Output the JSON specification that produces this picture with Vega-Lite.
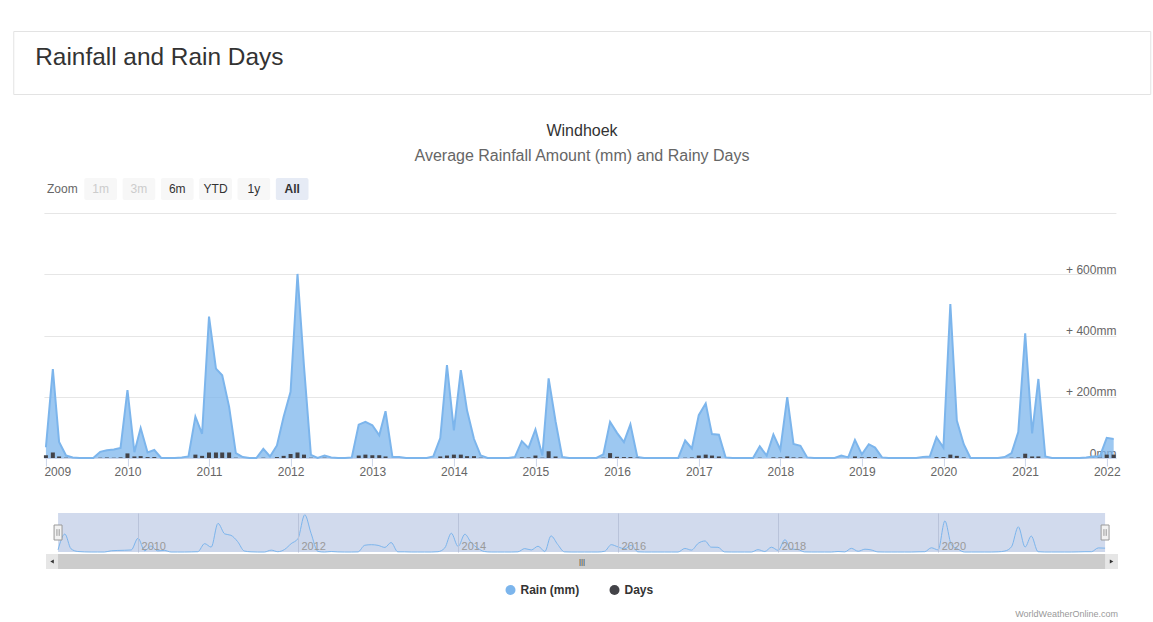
{
  "$schema": "https://vega.github.io/schema/vega-lite/v6.json",
  "padding": {"left": 12, "top": 30, "right": 4, "bottom": 0},
  "background": "#ffffff",
  "config": {
    "font": "Liberation Sans",
    "view": {"stroke": null}
  },
  "datasets": {
    "monthly": [
      {"date": "2009-01-01", "rain": 35, "days": 9},
      {"date": "2009-02-01", "rain": 290, "days": 18},
      {"date": "2009-03-01", "rain": 52, "days": 5},
      {"date": "2009-04-01", "rain": 8, "days": 1},
      {"date": "2009-05-01", "rain": 2, "days": 0},
      {"date": "2009-06-01", "rain": 0, "days": 0},
      {"date": "2009-07-01", "rain": 0, "days": 0},
      {"date": "2009-08-01", "rain": 0, "days": 0},
      {"date": "2009-09-01", "rain": 20, "days": 1},
      {"date": "2009-10-01", "rain": 25, "days": 2},
      {"date": "2009-11-01", "rain": 28, "days": 1},
      {"date": "2009-12-01", "rain": 33, "days": 2},
      {"date": "2010-01-01", "rain": 222, "days": 15},
      {"date": "2010-02-01", "rain": 19, "days": 5},
      {"date": "2010-03-01", "rain": 98, "days": 6},
      {"date": "2010-04-01", "rain": 18, "days": 3},
      {"date": "2010-05-01", "rain": 26, "days": 3},
      {"date": "2010-06-01", "rain": 0, "days": 0},
      {"date": "2010-07-01", "rain": 0, "days": 0},
      {"date": "2010-08-01", "rain": 0, "days": 0},
      {"date": "2010-09-01", "rain": 2, "days": 0},
      {"date": "2010-10-01", "rain": 5, "days": 0},
      {"date": "2010-11-01", "rain": 135, "days": 11},
      {"date": "2010-12-01", "rain": 79, "days": 7},
      {"date": "2011-01-01", "rain": 462, "days": 18},
      {"date": "2011-02-01", "rain": 292, "days": 18},
      {"date": "2011-03-01", "rain": 270, "days": 18},
      {"date": "2011-04-01", "rain": 167, "days": 18},
      {"date": "2011-05-01", "rain": 16, "days": 1},
      {"date": "2011-06-01", "rain": 3, "days": 0},
      {"date": "2011-07-01", "rain": 0, "days": 0},
      {"date": "2011-08-01", "rain": 0, "days": 0},
      {"date": "2011-09-01", "rain": 30, "days": 1},
      {"date": "2011-10-01", "rain": 5, "days": 0},
      {"date": "2011-11-01", "rain": 41, "days": 3},
      {"date": "2011-12-01", "rain": 135, "days": 7},
      {"date": "2012-01-01", "rain": 216, "days": 13},
      {"date": "2012-02-01", "rain": 601, "days": 18},
      {"date": "2012-03-01", "rain": 300, "days": 11},
      {"date": "2012-04-01", "rain": 10, "days": 1},
      {"date": "2012-05-01", "rain": 0, "days": 0},
      {"date": "2012-06-01", "rain": 8, "days": 1},
      {"date": "2012-07-01", "rain": 2, "days": 0},
      {"date": "2012-08-01", "rain": 0, "days": 0},
      {"date": "2012-09-01", "rain": 0, "days": 0},
      {"date": "2012-10-01", "rain": 2, "days": 0},
      {"date": "2012-11-01", "rain": 109, "days": 8},
      {"date": "2012-12-01", "rain": 118, "days": 11},
      {"date": "2013-01-01", "rain": 107, "days": 9},
      {"date": "2013-02-01", "rain": 74, "days": 9},
      {"date": "2013-03-01", "rain": 153, "days": 5},
      {"date": "2013-04-01", "rain": 3, "days": 0},
      {"date": "2013-05-01", "rain": 3, "days": 0},
      {"date": "2013-06-01", "rain": 0, "days": 0},
      {"date": "2013-07-01", "rain": 0, "days": 0},
      {"date": "2013-08-01", "rain": 0, "days": 0},
      {"date": "2013-09-01", "rain": 0, "days": 0},
      {"date": "2013-10-01", "rain": 5, "days": 0},
      {"date": "2013-11-01", "rain": 65, "days": 5},
      {"date": "2013-12-01", "rain": 303, "days": 8},
      {"date": "2014-01-01", "rain": 90, "days": 11},
      {"date": "2014-02-01", "rain": 287, "days": 11},
      {"date": "2014-03-01", "rain": 155, "days": 6},
      {"date": "2014-04-01", "rain": 62, "days": 6},
      {"date": "2014-05-01", "rain": 8, "days": 1},
      {"date": "2014-06-01", "rain": 0, "days": 0},
      {"date": "2014-07-01", "rain": 0, "days": 0},
      {"date": "2014-08-01", "rain": 0, "days": 0},
      {"date": "2014-09-01", "rain": 0, "days": 0},
      {"date": "2014-10-01", "rain": 3, "days": 0},
      {"date": "2014-11-01", "rain": 55, "days": 2},
      {"date": "2014-12-01", "rain": 33, "days": 2},
      {"date": "2015-01-01", "rain": 93, "days": 8},
      {"date": "2015-02-01", "rain": 8, "days": 1},
      {"date": "2015-03-01", "rain": 260, "days": 22},
      {"date": "2015-04-01", "rain": 120, "days": 5},
      {"date": "2015-05-01", "rain": 3, "days": 0},
      {"date": "2015-06-01", "rain": 0, "days": 0},
      {"date": "2015-07-01", "rain": 0, "days": 0},
      {"date": "2015-08-01", "rain": 0, "days": 0},
      {"date": "2015-09-01", "rain": 0, "days": 0},
      {"date": "2015-10-01", "rain": 0, "days": 0},
      {"date": "2015-11-01", "rain": 12, "days": 1},
      {"date": "2015-12-01", "rain": 118, "days": 16},
      {"date": "2016-01-01", "rain": 82, "days": 4},
      {"date": "2016-02-01", "rain": 52, "days": 3},
      {"date": "2016-03-01", "rain": 110, "days": 3},
      {"date": "2016-04-01", "rain": 3, "days": 1},
      {"date": "2016-05-01", "rain": 0, "days": 0},
      {"date": "2016-06-01", "rain": 0, "days": 0},
      {"date": "2016-07-01", "rain": 0, "days": 0},
      {"date": "2016-08-01", "rain": 0, "days": 0},
      {"date": "2016-09-01", "rain": 0, "days": 0},
      {"date": "2016-10-01", "rain": 0, "days": 0},
      {"date": "2016-11-01", "rain": 57, "days": 1},
      {"date": "2016-12-01", "rain": 31, "days": 2},
      {"date": "2017-01-01", "rain": 140, "days": 8},
      {"date": "2017-02-01", "rain": 178, "days": 11},
      {"date": "2017-03-01", "rain": 78, "days": 8},
      {"date": "2017-04-01", "rain": 76, "days": 5},
      {"date": "2017-05-01", "rain": 2, "days": 0},
      {"date": "2017-06-01", "rain": 0, "days": 0},
      {"date": "2017-07-01", "rain": 0, "days": 0},
      {"date": "2017-08-01", "rain": 0, "days": 0},
      {"date": "2017-09-01", "rain": 0, "days": 0},
      {"date": "2017-10-01", "rain": 38, "days": 1},
      {"date": "2017-11-01", "rain": 8, "days": 0},
      {"date": "2017-12-01", "rain": 77, "days": 2},
      {"date": "2018-01-01", "rain": 27, "days": 2},
      {"date": "2018-02-01", "rain": 199, "days": 5},
      {"date": "2018-03-01", "rain": 46, "days": 2},
      {"date": "2018-04-01", "rain": 40, "days": 2},
      {"date": "2018-05-01", "rain": 2, "days": 0},
      {"date": "2018-06-01", "rain": 0, "days": 0},
      {"date": "2018-07-01", "rain": 0, "days": 0},
      {"date": "2018-08-01", "rain": 0, "days": 0},
      {"date": "2018-09-01", "rain": 0, "days": 0},
      {"date": "2018-10-01", "rain": 8, "days": 0},
      {"date": "2018-11-01", "rain": 2, "days": 0},
      {"date": "2018-12-01", "rain": 59, "days": 5},
      {"date": "2019-01-01", "rain": 12, "days": 2},
      {"date": "2019-02-01", "rain": 45, "days": 3},
      {"date": "2019-03-01", "rain": 34, "days": 3},
      {"date": "2019-04-01", "rain": 2, "days": 0},
      {"date": "2019-05-01", "rain": 0, "days": 0},
      {"date": "2019-06-01", "rain": 0, "days": 0},
      {"date": "2019-07-01", "rain": 0, "days": 0},
      {"date": "2019-08-01", "rain": 0, "days": 0},
      {"date": "2019-09-01", "rain": 0, "days": 0},
      {"date": "2019-10-01", "rain": 3, "days": 0},
      {"date": "2019-11-01", "rain": 5, "days": 0},
      {"date": "2019-12-01", "rain": 68, "days": 3},
      {"date": "2020-01-01", "rain": 34, "days": 3},
      {"date": "2020-02-01", "rain": 503, "days": 11},
      {"date": "2020-03-01", "rain": 122, "days": 7},
      {"date": "2020-04-01", "rain": 45, "days": 2},
      {"date": "2020-05-01", "rain": 0, "days": 0},
      {"date": "2020-06-01", "rain": 0, "days": 0},
      {"date": "2020-07-01", "rain": 0, "days": 0},
      {"date": "2020-08-01", "rain": 0, "days": 0},
      {"date": "2020-09-01", "rain": 0, "days": 0},
      {"date": "2020-10-01", "rain": 3, "days": 0},
      {"date": "2020-11-01", "rain": 16, "days": 1},
      {"date": "2020-12-01", "rain": 85, "days": 2},
      {"date": "2021-01-01", "rain": 407, "days": 14},
      {"date": "2021-02-01", "rain": 80, "days": 5},
      {"date": "2021-03-01", "rain": 258, "days": 5},
      {"date": "2021-04-01", "rain": 5, "days": 0},
      {"date": "2021-05-01", "rain": 0, "days": 0},
      {"date": "2021-06-01", "rain": 0, "days": 0},
      {"date": "2021-07-01", "rain": 0, "days": 0},
      {"date": "2021-08-01", "rain": 0, "days": 0},
      {"date": "2021-09-01", "rain": 0, "days": 0},
      {"date": "2021-10-01", "rain": 2, "days": 0},
      {"date": "2021-11-01", "rain": 5, "days": 0},
      {"date": "2021-12-01", "rain": 5, "days": 1},
      {"date": "2022-01-01", "rain": 66, "days": 11},
      {"date": "2022-02-01", "rain": 62, "days": 11}
    ]
  },
  "spacing": 0,
  "center": true,
  "bounds": "full",
  "resolve": {"scale": {"color": "independent", "fill": "independent"}},
  "vconcat": [
    {
      "width": 1137,
      "height": 63,
      "view": {"stroke": "#e3e3e3"},
      "data": {"values": [{"heading": "Rainfall and Rain Days"}]},
      "mark": {"type": "text", "align": "left", "baseline": "middle", "dx": 22, "dy": -4.5, "fontSize": 24.4, "color": "#333333"},
      "encoding": {
        "x": {
          "field": "heading", "type": "nominal",
          "scale": {"type": "point", "padding": 0, "align": 0},
          "axis": {"labels": false, "ticks": false, "grid": false, "domainOpacity": 0, "title": null, "minExtent": 28, "maxExtent": 28}
        },
        "text": {"field": "heading"}
      }
    },
    {
      "width": 1072,
      "height": 22,
      "title": {
        "text": "Windhoek",
        "subtitle": "Average Rainfall Amount (mm) and Rainy Days",
        "anchor": "middle", "frame": "group",
        "fontSize": 16, "fontWeight": "normal", "color": "#333333",
        "subtitleFontSize": 16, "subtitleColor": "#666666", "subtitlePadding": 9,
        "offset": 14
      },
      "data": {"values": [
        {"label": "Zoom", "state": "label"},
        {"label": "1m", "state": "disabled"},
        {"label": "3m", "state": "disabled"},
        {"label": "6m", "state": "normal"},
        {"label": "YTD", "state": "normal"},
        {"label": "1y", "state": "normal"},
        {"label": "All", "state": "selected"}
      ]},
      "encoding": {
        "x": {
          "field": "label", "type": "nominal",
          "scale": {"type": "band", "domain": ["Zoom", "1m", "3m", "6m", "YTD", "1y", "All"], "range": [0, 262.5], "paddingInner": 0.147, "paddingOuter": 0},
          "axis": {"labels": false, "ticks": false, "grid": false, "domainOpacity": 0, "title": null, "minExtent": 13, "maxExtent": 13}
        }
      },
      "layer": [
        {
          "transform": [{"filter": "datum.state != 'label'"}],
          "mark": {"type": "rect", "cornerRadius": 2},
          "encoding": {
            "fill": {"field": "state", "type": "nominal", "scale": {"domain": ["disabled", "normal", "selected"], "range": ["#f7f7f7", "#f7f7f7", "#e6ebf5"]}, "legend": null}
          }
        },
        {
          "transform": [{"filter": "datum.state != 'selected'"}],
          "mark": {"type": "text", "fontSize": 12},
          "encoding": {
            "text": {"field": "label"},
            "color": {"field": "state", "type": "nominal", "scale": {"domain": ["label", "disabled", "normal"], "range": ["#666666", "#cccccc", "#333333"]}, "legend": null}
          }
        },
        {
          "transform": [{"filter": "datum.state == 'selected'"}],
          "mark": {"type": "text", "fontSize": 12, "fontWeight": "bold", "color": "#333333"},
          "encoding": {"text": {"field": "label"}}
        }
      ]
    },
    {
      "width": 1072,
      "height": 245,
      "data": {"name": "monthly"},
      "encoding": {
        "x": {
          "field": "date", "type": "temporal",
          "scale": {"type": "utc", "padding": 0, "domain": [{"year": 2008, "month": 12, "date": 23, "utc": true}, {"year": 2022, "month": 2, "date": 11, "utc": true}]},
          "axis": {
            "values": [
              {"year": 2009, "month": 1, "date": 1, "utc": true}, {"year": 2010, "month": 1, "date": 1, "utc": true},
              {"year": 2011, "month": 1, "date": 1, "utc": true}, {"year": 2012, "month": 1, "date": 1, "utc": true},
              {"year": 2013, "month": 1, "date": 1, "utc": true}, {"year": 2014, "month": 1, "date": 1, "utc": true},
              {"year": 2015, "month": 1, "date": 1, "utc": true}, {"year": 2016, "month": 1, "date": 1, "utc": true},
              {"year": 2017, "month": 1, "date": 1, "utc": true}, {"year": 2018, "month": 1, "date": 1, "utc": true},
              {"year": 2019, "month": 1, "date": 1, "utc": true}, {"year": 2020, "month": 1, "date": 1, "utc": true},
              {"year": 2021, "month": 1, "date": 1, "utc": true}, {"year": 2022, "month": 1, "date": 1, "utc": true}
            ],
            "format": "%Y", "labelFlush": 5, "labelFlushOffset": 2, "labelOverlap": false, "grid": false,
            "domainColor": "#ccd6eb", "tickColor": "#ccd6eb", "tickSize": 8,
            "labelPadding": 0, "labelColor": "#666666", "labelFontSize": 12,
            "title": null, "minExtent": 54, "maxExtent": 54
          }
        }
      },
      "layer": [
        {
          "mark": {"type": "area", "color": "#7cb5ec", "fillOpacity": 0.75, "line": {"color": "#7cb5ec", "strokeWidth": 2}},
          "encoding": {
            "y": {
              "field": "rain", "type": "quantitative",
              "scale": {"domain": [0, 800], "nice": false},
              "axis": {
                "orient": "right", "values": [0, 200, 400, 600, 800],
                "labelExpr": "datum.value == 800 ? '' : datum.value == 0 ? '0mm' : '+ ' + datum.value + 'mm'",
                "grid": true, "gridColor": "#e6e6e6", "domain": false, "ticks": false,
                "labelAlign": "right", "labelBaseline": "bottom", "labelPadding": 0, "labelOffset": 2,
                "labelColor": "#666666", "labelFontSize": 12, "title": null, "minExtent": 0, "maxExtent": 0
              }
            }
          }
        },
        {
          "mark": {"type": "bar", "color": "#434348", "size": 4, "orient": "vertical"},
          "encoding": {
            "y": {
              "field": "days", "type": "quantitative",
              "axis": {
                "orient": "right", "values": [0, 200, 400, 600, 800],
                "labelExpr": "datum.value == 800 ? '' : datum.value == 0 ? '0mm' : '+ ' + datum.value + 'mm'",
                "grid": true, "gridColor": "#e6e6e6", "domain": false, "ticks": false,
                "labelAlign": "right", "labelBaseline": "bottom", "labelPadding": 0, "labelOffset": 2,
                "labelColor": "#666666", "labelFontSize": 12, "title": null, "minExtent": 0, "maxExtent": 0
              }
            }
          }
        }
      ]
    },
    {
      "width": 1072,
      "height": 39,
      "data": {"name": "monthly", "format": {"parse": {"date": "date"}}},
      "layer": [
        {
          "transform": [{"aggregate": [{"op": "min", "field": "date", "as": "start"}, {"op": "max", "field": "date", "as": "end"}]}],
          "mark": {"type": "rect", "color": "#6685c2", "opacity": 0.3},
          "encoding": {
            "x": {
              "field": "start", "type": "temporal",
              "scale": {"type": "utc", "domain": [{"year": 2008, "month": 11, "date": 7, "utc": true}, {"year": 2022, "month": 4, "date": 1, "utc": true}]},
              "axis": {
                "values": [
                  {"year": 2010, "month": 1, "date": 1, "utc": true}, {"year": 2012, "month": 1, "date": 1, "utc": true},
                  {"year": 2014, "month": 1, "date": 1, "utc": true}, {"year": 2016, "month": 1, "date": 1, "utc": true},
                  {"year": 2018, "month": 1, "date": 1, "utc": true}, {"year": 2020, "month": 1, "date": 1, "utc": true}
                ],
                "format": "%Y", "grid": true, "gridColor": "#b9c3da", "domain": false, "ticks": false,
                "labelAlign": "left", "labelBaseline": "alphabetic", "labelPadding": -3, "labelOffset": 3,
                "labelColor": "#999999", "labelFontSize": 11, "labelOverlap": false,
                "title": null, "minExtent": 0, "maxExtent": 0, "zindex": 1
              }
            },
            "x2": {"field": "end"}
          }
        },
        {
          "mark": {"type": "area", "interpolate": "monotone", "color": "#7cb5ec", "fillOpacity": 0.05, "line": {"color": "#7cb5ec", "strokeWidth": 1}},
          "encoding": {
            "x": {
              "field": "date", "type": "temporal",
              "scale": {"type": "utc", "domain": [{"year": 2008, "month": 11, "date": 7, "utc": true}, {"year": 2022, "month": 4, "date": 1, "utc": true}]},
              "axis": {
                "values": [
                  {"year": 2010, "month": 1, "date": 1, "utc": true}, {"year": 2012, "month": 1, "date": 1, "utc": true},
                  {"year": 2014, "month": 1, "date": 1, "utc": true}, {"year": 2016, "month": 1, "date": 1, "utc": true},
                  {"year": 2018, "month": 1, "date": 1, "utc": true}, {"year": 2020, "month": 1, "date": 1, "utc": true}
                ],
                "format": "%Y", "grid": true, "gridColor": "#b9c3da", "domain": false, "ticks": false,
                "labelAlign": "left", "labelBaseline": "alphabetic", "labelPadding": -3, "labelOffset": 3,
                "labelColor": "#999999", "labelFontSize": 11, "labelOverlap": false,
                "title": null, "minExtent": 0, "maxExtent": 0, "zindex": 1
              }
            },
            "y": {"field": "rain", "type": "quantitative", "scale": {"domain": [0, 630], "nice": false}, "axis": null}
          }
        },
        {
          "transform": [{"aggregate": [{"op": "min", "field": "date", "as": "start"}]}],
          "mark": {"type": "point", "shape": "M-0.53,-1H0.53V1H-0.53Z M-0.15,-0.45V0.45 M0.15,-0.45V0.45", "size": 225, "filled": true, "fill": "#f2f2f2", "stroke": "#999999", "strokeWidth": 1, "opacity": 1},
          "encoding": {
            "x": {"field": "start", "type": "temporal", "scale": {"type": "utc", "domain": [{"year": 2008, "month": 11, "date": 7, "utc": true}, {"year": 2022, "month": 4, "date": 1, "utc": true}]}}
          }
        },
        {
          "transform": [{"aggregate": [{"op": "max", "field": "date", "as": "end"}]}],
          "mark": {"type": "point", "shape": "M-0.53,-1H0.53V1H-0.53Z M-0.15,-0.45V0.45 M0.15,-0.45V0.45", "size": 225, "filled": true, "fill": "#f2f2f2", "stroke": "#999999", "strokeWidth": 1, "opacity": 1},
          "encoding": {
            "x": {"field": "end", "type": "temporal", "scale": {"type": "utc", "domain": [{"year": 2008, "month": 11, "date": 7, "utc": true}, {"year": 2022, "month": 4, "date": 1, "utc": true}]}}
          }
        }
      ]
    },
    {
      "width": 1072,
      "height": 15,
      "view": {"fill": "#e6e6e6", "stroke": null},
      "data": {"name": "monthly", "format": {"parse": {"date": "date"}}},
      "transform": [{"aggregate": [{"op": "min", "field": "date", "as": "start"}, {"op": "max", "field": "date", "as": "end"}]}],
      "layer": [
        {
          "mark": {"type": "rect", "color": "#cccccc"},
          "encoding": {
            "x": {
              "field": "start", "type": "temporal",
              "scale": {"type": "utc", "domain": [{"year": 2008, "month": 11, "date": 7, "utc": true}, {"year": 2022, "month": 4, "date": 1, "utc": true}]},
              "axis": {"labels": false, "ticks": false, "grid": false, "domainOpacity": 0, "title": null, "minExtent": 14, "maxExtent": 14}
            },
            "x2": {"field": "end"}
          }
        },
        {
          "mark": {"type": "text", "text": "|||", "fontSize": 8, "color": "#333333"}
        },
        {
          "mark": {"type": "point", "shape": "triangle-left", "size": 16, "filled": true, "color": "#333333", "opacity": 1, "xOffset": -6},
          "encoding": {
            "x": {
              "field": "start", "type": "temporal",
              "scale": {"type": "utc", "domain": [{"year": 2008, "month": 11, "date": 7, "utc": true}, {"year": 2022, "month": 4, "date": 1, "utc": true}]},
              "axis": {"labels": false, "ticks": false, "grid": false, "domainOpacity": 0, "title": null, "minExtent": 14, "maxExtent": 14}
            }
          }
        },
        {
          "mark": {"type": "point", "shape": "triangle-right", "size": 16, "filled": true, "color": "#333333", "opacity": 1, "xOffset": 6.5},
          "encoding": {
            "x": {
              "field": "end", "type": "temporal",
              "scale": {"type": "utc", "domain": [{"year": 2008, "month": 11, "date": 7, "utc": true}, {"year": 2022, "month": 4, "date": 1, "utc": true}]},
              "axis": {"labels": false, "ticks": false, "grid": false, "domainOpacity": 0, "title": null, "minExtent": 14, "maxExtent": 14}
            }
          }
        }
      ]
    },
    {
      "width": 1072,
      "height": 14,
      "title": {
        "text": "WorldWeatherOnline.com", "orient": "bottom", "anchor": "end", "frame": "group",
        "fontSize": 9, "fontWeight": "normal", "color": "#999999", "offset": 13
      },
      "data": {"values": [{"series": "Rain (mm)"}, {"series": "Days"}]},
      "encoding": {
        "x": {
          "field": "series", "type": "nominal",
          "scale": {"type": "point", "domain": ["Rain (mm)", "Days"], "range": [464.5, 568.5], "padding": 0},
          "axis": null
        }
      },
      "layer": [
        {
          "mark": {"type": "point", "shape": "circle", "size": 100, "filled": true, "opacity": 1},
          "encoding": {
            "color": {"field": "series", "type": "nominal", "scale": {"domain": ["Rain (mm)", "Days"], "range": ["#7cb5ec", "#434348"]}, "legend": null}
          }
        },
        {
          "mark": {"type": "text", "align": "left", "dx": 10, "fontSize": 12, "fontWeight": "bold", "color": "#333333"},
          "encoding": {"text": {"field": "series"}}
        }
      ]
    }
  ]
}
